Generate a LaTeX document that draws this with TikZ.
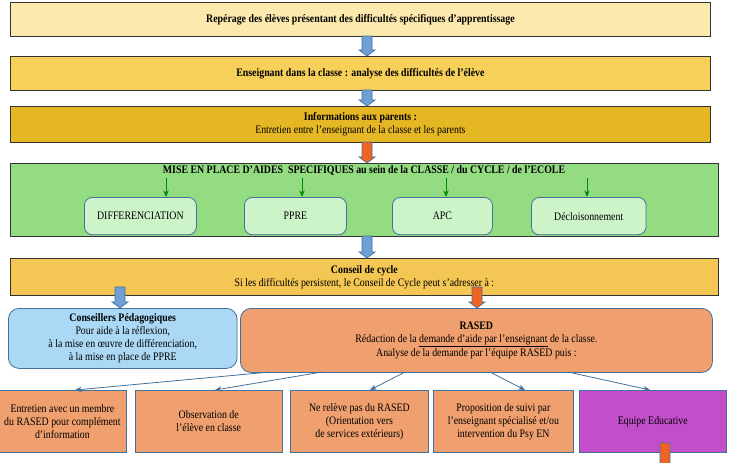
\documentclass[tikz,border=0pt]{standalone}
\usepackage{fontspec}
\setmainfont{Liberation Serif}[FakeStretch=0.86]
\usetikzlibrary{arrows.meta}
\definecolor{y1}{HTML}{FCE9AE}
\definecolor{y2}{HTML}{F7D05A}
\definecolor{y3}{HTML}{E6B724}
\definecolor{gr}{HTML}{93DC82}
\definecolor{grin}{HTML}{CDF3C8}
\definecolor{y4}{HTML}{F4C653}
\definecolor{bl}{HTML}{ABD8F4}
\definecolor{or}{HTML}{EFA06E}
\definecolor{pu}{HTML}{C24FC9}
\definecolor{arb}{HTML}{6F9FD5}
\definecolor{aro}{HTML}{F06423}
\definecolor{ln}{HTML}{41719C}
\tikzset{
  bar/.style={draw=black!80, line width=0.6pt, align=center, font=\fontsize{8.6}{9.8}\selectfont, inner sep=1pt},
  rbox/.style={draw=ln, line width=0.6pt, rounded corners=6pt, align=center, font=\fontsize{8.6}{9.8}\selectfont},
  bbox/.style={draw=ln, line width=0.6pt, fill=or, align=center, font=\fontsize{8.6}{9.8}\selectfont},
  con/.style={draw=ln, line width=0.6pt, -{Stealth[length=5pt,width=4pt]}},
  gcon/.style={draw=green!55!black, line width=0.6pt, -{Stealth[length=5pt,width=4pt]}},
}
\newcommand\blk[4]{\fill[#4, draw=ln, line width=0.5pt] (#1-5,#2) -- (#1+5,#2) -- (#1+5,#3-6) -- (#1+8,#3-6) -- (#1,#3) -- (#1-8,#3-6) -- (#1-5,#3-6) -- cycle;}
\begin{document}
\begin{tikzpicture}[x=0.75pt,y=-0.75pt]
\useasboundingbox[fill=white] (0,0) rectangle (738,462);
\node[bar, fill=y1, minimum width=525pt, minimum height=25.5pt, anchor=north west] (r1) at (10,2) {\textbf{Repérage des élèves présentant des difficultés spécifiques d’apprentissage}};
\node[bar, fill=y2, minimum width=525pt, minimum height=25.5pt, anchor=north west] (r2) at (10,56) {\textbf{Enseignant dans la classe : analyse des difficultés de l’élève}};
\node[bar, fill=y3, minimum width=525pt, minimum height=27pt, anchor=north west] (r3) at (10,106) {\textbf{Informations aux parents :}\\Entretien entre l’enseignant de la classe et les parents};
\node[bar, fill=gr, minimum width=531pt, minimum height=55pt, anchor=north west] (g) at (10,163) {};
\node[font=\fontsize{8.6}{9.8}\selectfont, anchor=north, inner sep=1pt] (gt) at (364,164) {\textbf{MISE EN PLACE D’AIDES\ \ SPECIFIQUES au sein de la CLASSE / du CYCLE / de l’ECOLE}};
\node[rbox, fill=grin, minimum width=84pt, minimum height=28pt, anchor=north west] (d1) at (84,197) {DIFFERENCIATION};
\node[rbox, fill=grin, minimum width=76.5pt, minimum height=28pt, anchor=north west] (d2) at (244,197) {PPRE};
\node[rbox, fill=grin, minimum width=75pt, minimum height=28pt, anchor=north west] (d3) at (392,197) {APC};
\node[rbox, fill=grin, minimum width=86pt, minimum height=28pt, anchor=north west] (d4) at (531,197) {Décloisonnement};
\foreach \n/\x in {d1/166,d2/302,d3/446,d4/587} \draw[gcon] (\x,178) -- (\n.north -| \x,0);
\node[bar, fill=y4, minimum width=531pt, minimum height=28pt, anchor=north west] (cc) at (10,258) {\textbf{Conseil de cycle}\\Si les difficultés persistent, le Conseil de Cycle peut s’adresser à :};
\node[rbox, fill=bl, minimum width=171.5pt, minimum height=45pt, anchor=north west, rounded corners=8pt, inner sep=1pt] (cp) at (8,308) {\textbf{Conseillers Pédagogiques}\\Pour aide à la réflexion,\\à la mise en œuvre de différenciation,\\à la mise en place de PPRE};
\node[rbox, fill=or, minimum width=354pt, minimum height=48pt, anchor=north west, rounded corners=8pt] (ra) at (240,308) {\textbf{RASED}\\Rédaction de la \underline{demande d’aide par l’enseignant} de la classe.\\Analyse de la demande par l’équipe RASED puis :};
\node[bbox, minimum width=96pt, minimum height=46.5pt, anchor=north west, inner sep=1pt] (b1) at (-2,390) {Entretien avec un membre\\du RASED pour complément\\d’information};
\node[bbox, minimum width=110pt, minimum height=46.5pt, anchor=north west] (b2) at (135,390) {Observation de\\l’élève en classe};
\node[bbox, minimum width=103.5pt, minimum height=46.5pt, anchor=north west, inner sep=1pt] (b3) at (290,390) {Ne relève pas du RASED\\(Orientation vers\\de services extérieurs)};
\node[bbox, minimum width=105pt, minimum height=46.5pt, anchor=north west, inner sep=1pt] (b4) at (433,390) {Proposition de suivi par\\l’enseignant spécialisé et/ou\\intervention du Psy EN};
\node[bbox, fill=pu, minimum width=110pt, minimum height=46.5pt, anchor=north west] (b5) at (579,390) {Equipe Educative};
\draw[con] (270,372) -- (b1.north -| 75,0);
\draw[con] (322,372) -- (b2.north -| 215,0);
\draw[con] (405,372) -- (b3.north -| 370,0);
\draw[con] (490,372) -- (b4.north -| 525,0);
\draw[con] (568,372) -- (b5.north -| 650,0);
\blk{367}{36}{56}{arb}
\blk{367}{90}{106}{arb}
\blk{367}{142}{163}{aro}
\blk{367}{236}{258}{arb}
\blk{120}{287}{308}{arb}
\blk{477}{287}{308}{aro}
\blk{665}{443}{470}{aro}
\end{tikzpicture}
\end{document}
